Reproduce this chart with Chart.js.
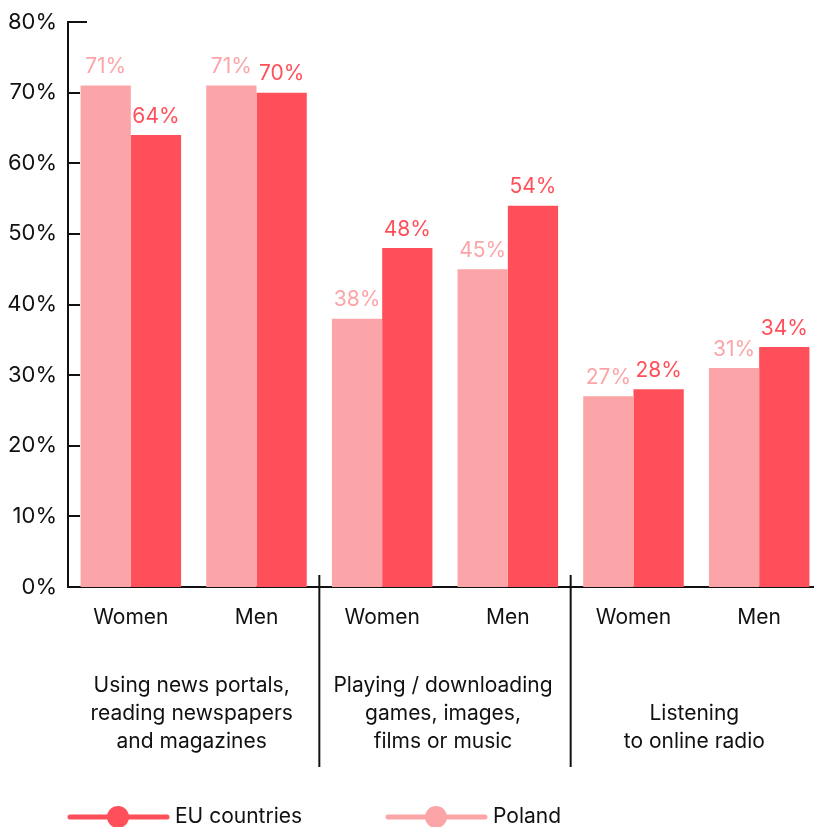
<!DOCTYPE html>
<html>
<head>
<meta charset="utf-8">
<script src="https://cdn.jsdelivr.net/npm/chart.js@4.4.1/dist/chart.umd.min.js"></script>
<style>
    html, body { margin: 0; padding: 0; background: #fff; overflow: hidden; }
    #wrap { position: relative; width: 824px; height: 827px; }
</style>
</head>
<body>
<div id="wrap"><canvas id="usageChart" width="822" height="827"></canvas></div>
<script>
// ===== dane =====
const categories = ['Women', 'Men', 'Women', 'Men', 'Women', 'Men'];
const groupLabels = [
    ['Using news portals,', 'reading newspapers', 'and magazines'],
    ['Playing / downloading', 'games, images,', 'films or music'],
    ['Listening', 'to online radio']
];
const polandValues = [71, 71, 38, 45, 27, 31];
const euValues = [64, 70, 48, 54, 28, 34];
const yTicks = [0, 10, 20, 30, 40, 50, 60, 70, 80];

const PINK = '#fca5a8';
const RED = '#ff4f5a';
const FONT = 'Inter, "Noto Sans", sans-serif';

// rysowanie etykiet, separatorów i legendy
const extras = {
    id: 'extras',
    afterDatasetsDraw(chart) {
        const c = chart.ctx;
        const x = chart.scales.x, y = chart.scales.y;
        c.save();

        // etykiety wartości nad słupkami
        c.font = '21px ' + FONT;
        c.textAlign = 'center';
        c.textBaseline = 'bottom';
        chart.data.datasets.forEach((ds, i) => {
            c.fillStyle = ds.backgroundColor;
            chart.getDatasetMeta(i).data.forEach((bar, j) => {
                c.fillText(ds.data[j] + '%', bar.x, bar.y - 8);
            });
        });

        // kreski osi Y do środka
        c.strokeStyle = '#111';
        c.lineWidth = 2;
        yTicks.forEach(v => {
            const py = Math.round(y.getPixelForValue(v));
            c.beginPath();
            c.moveTo(x.left, py);
            c.lineTo(x.left + (v === 80 ? 19 : 12), py);
            c.stroke();
        });

        // separatory grup
        [1, 3].forEach(i => {
            const px = (x.getPixelForValue(i) + x.getPixelForValue(i + 1)) / 2;
            c.beginPath();
            c.moveTo(px, y.bottom - 12);
            c.lineTo(px, 767);
            c.stroke();
        });

        // podpisy grup
        c.fillStyle = '#111';
        c.textBaseline = 'middle';
        groupLabels.forEach((lines, g) => {
            const cx = (x.getPixelForValue(g * 2) + x.getPixelForValue(g * 2 + 1)) / 2 - 2;
            const start = 742 - (lines.length - 1) * 28;
            lines.forEach((t, k) => c.fillText(t, cx, start + k * 28));
        });

        // legenda
        const items = [
            { label: 'EU countries', color: RED, x: 70 },
            { label: 'Poland', color: PINK, x: 388 }
        ];
        c.textAlign = 'left';
        items.forEach(it => {
            c.strokeStyle = it.color;
            c.lineWidth = 5;
            c.lineCap = 'round';
            c.beginPath();
            c.moveTo(it.x, 817);
            c.lineTo(it.x + 97, 817);
            c.stroke();
            c.fillStyle = it.color;
            c.beginPath();
            c.arc(it.x + 48, 817, 11, 0, Math.PI * 2);
            c.fill();
            c.fillStyle = '#111';
            c.fillText(it.label, it.x + 105, 817);
        });
        c.restore();
    }
};

new Chart(document.getElementById('usageChart'), {
    type: 'bar',
    data: {
        labels: categories,
        datasets: [
            { label: 'Poland', data: polandValues, backgroundColor: PINK },
            { label: 'EU countries', data: euValues, backgroundColor: RED }
        ]
    },
    options: {
        responsive: false,
        animation: false,
        layout: { padding: { top: 22, right: 0, left: 0, bottom: 0 } },
        plugins: { legend: { display: false }, tooltip: { enabled: false } },
        datasets: { bar: { categoryPercentage: 0.8, barPercentage: 1.0 } },
        scales: {
            x: {
                grid: { display: false, drawTicks: false },
                border: { color: '#111', width: 2 },
                ticks: { color: '#111', font: { family: FONT, size: 21 }, padding: 18, maxRotation: 0 },
                afterFit: s => { s.height = 240; }
            },
            y: {
                min: 0, max: 80,
                grid: { display: false, drawTicks: false },
                border: { color: '#111', width: 2 },
                ticks: {
                    stepSize: 10, color: '#111', padding: 11,
                    font: { family: FONT, size: 22, lineHeight: 1 },
                    callback: v => v + '%'
                },
                afterFit: s => { s.width = 68; }
            }
        }
    },
    plugins: [extras]
});
</script>
</body>
</html>
